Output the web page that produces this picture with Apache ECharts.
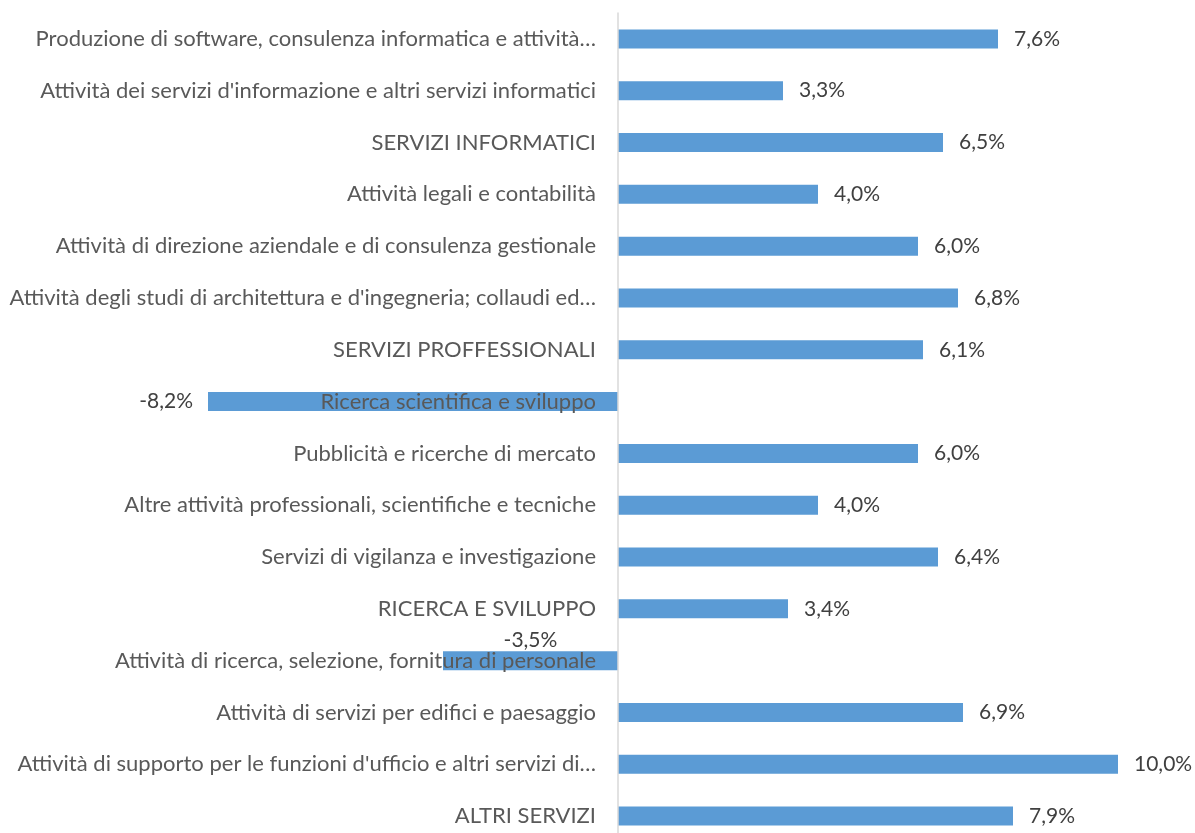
<!DOCTYPE html>
<html>
<head>
<meta charset="utf-8">
<script src="https://cdn.jsdelivr.net/npm/echarts@6/dist/echarts.min.js"></script>
<style>
  html, body { margin: 0; padding: 0; background: #fff; }
  #chart { width: 1195px; height: 833px; }
</style>
</head>
<body>
<div id="chart"></div>
<script>
const categories = [
  "Produzione di software, consulenza informatica e attività…",
  "Attività dei servizi d'informazione e altri servizi informatici",
  "SERVIZI INFORMATICI",
  "Attività legali e contabilità",
  "Attività di direzione aziendale e di consulenza gestionale",
  "Attività degli studi di architettura e d'ingegneria; collaudi ed…",
  "SERVIZI PROFFESSIONALI",
  "Ricerca scientifica e sviluppo",
  "Pubblicità e ricerche di mercato",
  "Altre attività professionali, scientifiche e tecniche",
  "Servizi di vigilanza e investigazione",
  "RICERCA E SVILUPPO",
  "Attività di ricerca, selezione, fornitura di personale",
  "Attività di servizi per edifici e paesaggio",
  "Attività di supporto per le funzioni d'ufficio e altri servizi di…",
  "ALTRI SERVIZI"
];
const values = [7.6, 3.3, 6.5, 4.0, 6.0, 6.8, 6.1, -8.2, 6.0, 4.0, 6.4, 3.4, -3.5, 6.9, 10.0, 7.9];

const fmt = v => v.toFixed(1).replace(".", ",") + "%";
const font = "Lato, 'Noto Sans', sans-serif";

const gridLeft = 18;
const xMin = -12;
const pxPerUnit = 50;
// shift the category axis (line + labels) onto the zero of the value axis
const zeroOffset = -xMin * pxPerUnit;

const chart = echarts.init(document.getElementById("chart"));

// negative bars put their label on the left (or on top, like Excel did for -3,5%)
const seriesData = values.map(v => {
  if (v >= 0) return v;
  if (v > -5) {
    return { value: v, label: { position: "top", distance: 0 } };
  }
  return { value: v, label: { position: "left", distance: 15 } };
});

chart.setOption({
  animation: false,
  grid: {
    left: gridLeft, right: 7, top: 13, height: 829,
    containLabel: false,
    outerBoundsMode: "none"
  },
  xAxis: {
    type: "value",
    min: xMin,
    max: 11.4,
    show: false
  },
  yAxis: {
    type: "category",
    inverse: true,
    data: categories,
    z: 3,
    offset: -zeroOffset,
    axisLine: { onZero: false, lineStyle: { color: "#d9d9d9", width: 1.5 } },
    axisTick: { show: false },
    axisLabel: {
      margin: 22,
      interval: 0,
      color: "#595959",
      fontSize: 22,
      fontFamily: font
    }
  },
  series: [
    {
      type: "bar",
      data: seriesData,
      barWidth: 19,
      itemStyle: { color: "#5b9bd5" },
      label: {
        show: true,
        position: "right",
        distance: 16,
        color: "#404040",
        fontSize: 21,
        fontFamily: font,
        formatter: p => fmt(p.value)
      }
    }
  ]
});
</script>
</body>
</html>
